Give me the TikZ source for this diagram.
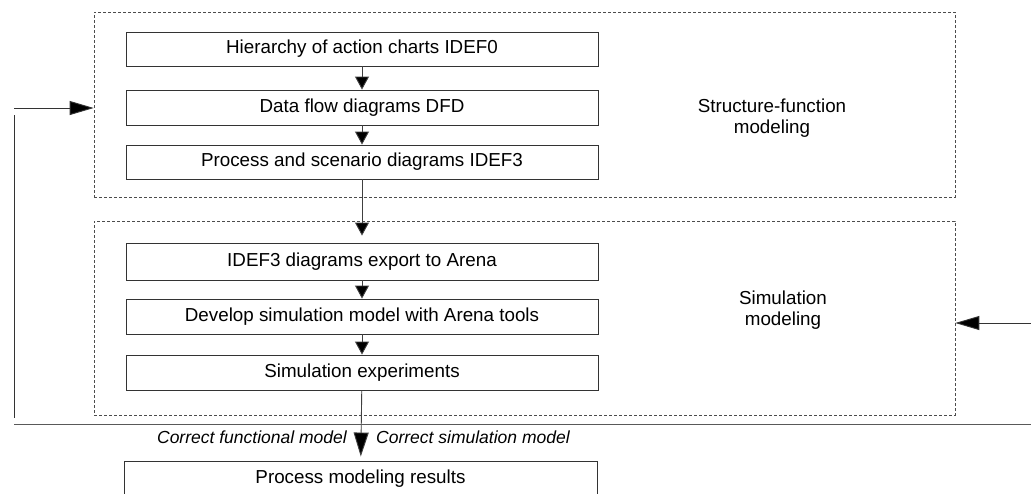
\documentclass[tikz,border=0pt]{standalone}
\usepackage{fontspec}
\setmainfont{Liberation Sans}
\usetikzlibrary{arrows.meta}
\begin{document}
\begin{tikzpicture}[x=1pt,y=-1pt,
  font=\fontsize{18.8}{21}\selectfont,
  stepbox/.style={draw=black!80,line width=0.9pt,minimum width=472pt,inner sep=0pt,anchor=center},
  group/.style={draw=black!70,line width=0.7pt,dash pattern=on 3pt off 2pt,minimum width=861pt,inner sep=0pt},
  conn/.style={draw=black!75,line width=0.9pt,-{Triangle[length=13pt,width=14pt,fill=black]}},
  bigconn/.style={draw=black!75,line width=0.9pt,-{Triangle[length=24pt,width=15pt,fill=black]}},
  feed/.style={draw=black!80,line width=0.9pt,-{Triangle[length=24pt,width=14pt,fill=black]}},
  plain/.style={draw=black!80,line width=0.9pt},
  lbl/.style={font=\fontsize{17.5}{21}\selectfont\itshape,inner sep=0pt}]
\useasboundingbox (0,0) rectangle (1031,493);
\clip (0,0) rectangle (1031,493);
\fill[white] (0,0) rectangle (1031,493);
% groups
\node[group,minimum height=185pt] (top) at (524.5,104.5) {};
\node[group,minimum height=194pt] (bot) at (524.5,318) {};
\node[align=center] (tlab) at (772,118) {Structure-function\\modeling};
\node[align=center] (blab) at (783,310) {Simulation\\modeling};
% steps
\node[stepbox,minimum height=34pt] (b1) at (362,49) {Hierarchy of action charts IDEF0};
\node[stepbox,minimum height=35pt] (b2) at (362,107.5) {Data flow diagrams DFD};
\node[stepbox,minimum height=34pt] (b3) at (362,162) {Process and scenario diagrams IDEF3};
\node[stepbox,minimum height=37pt] (b4) at (362,261.5) {IDEF3 diagrams export to Arena};
\node[stepbox,minimum height=35pt] (b5) at (362,316.5) {Develop simulation model with Arena tools};
\node[stepbox,minimum height=35pt] (b6) at (362,372.5) {Simulation experiments};
\node[stepbox,minimum width=473pt,minimum height=36pt] (b7) at (360.5,479) {Process modeling results};
% connectors
\draw[conn] (b1) -- (b2);
\draw[conn] (b2) -- (b3);
\draw[conn,shorten >=7pt] (b3) -- (b4);
\draw[conn] (b4) -- (b5);
\draw[conn] (b5) -- (b6);
\draw[bigconn,shorten >=4pt] (b6) -- (b7);
% feedback lines
\coordinate (la) at (14,108);
\coordinate (lv1) at (14,115);
\coordinate (lv2) at (14,418);
\coordinate (h1) at (14,424);
\coordinate (h2) at (1031,424);
\coordinate (ra) at (1031,323);
\draw[feed] (la) -- (la -| top.west);
\draw[plain] (lv1) -- (lv2);
\draw[draw=black!65,line width=0.9pt] (h1) -- (h2);
\draw[feed] (ra) -- (ra -| bot.east);
% labels
\node[lbl,anchor=east] (lf) at (347,437) {Correct functional model};
\node[lbl,anchor=west] (ls) at (376,437) {Correct simulation model};
\end{tikzpicture}
\end{document}
